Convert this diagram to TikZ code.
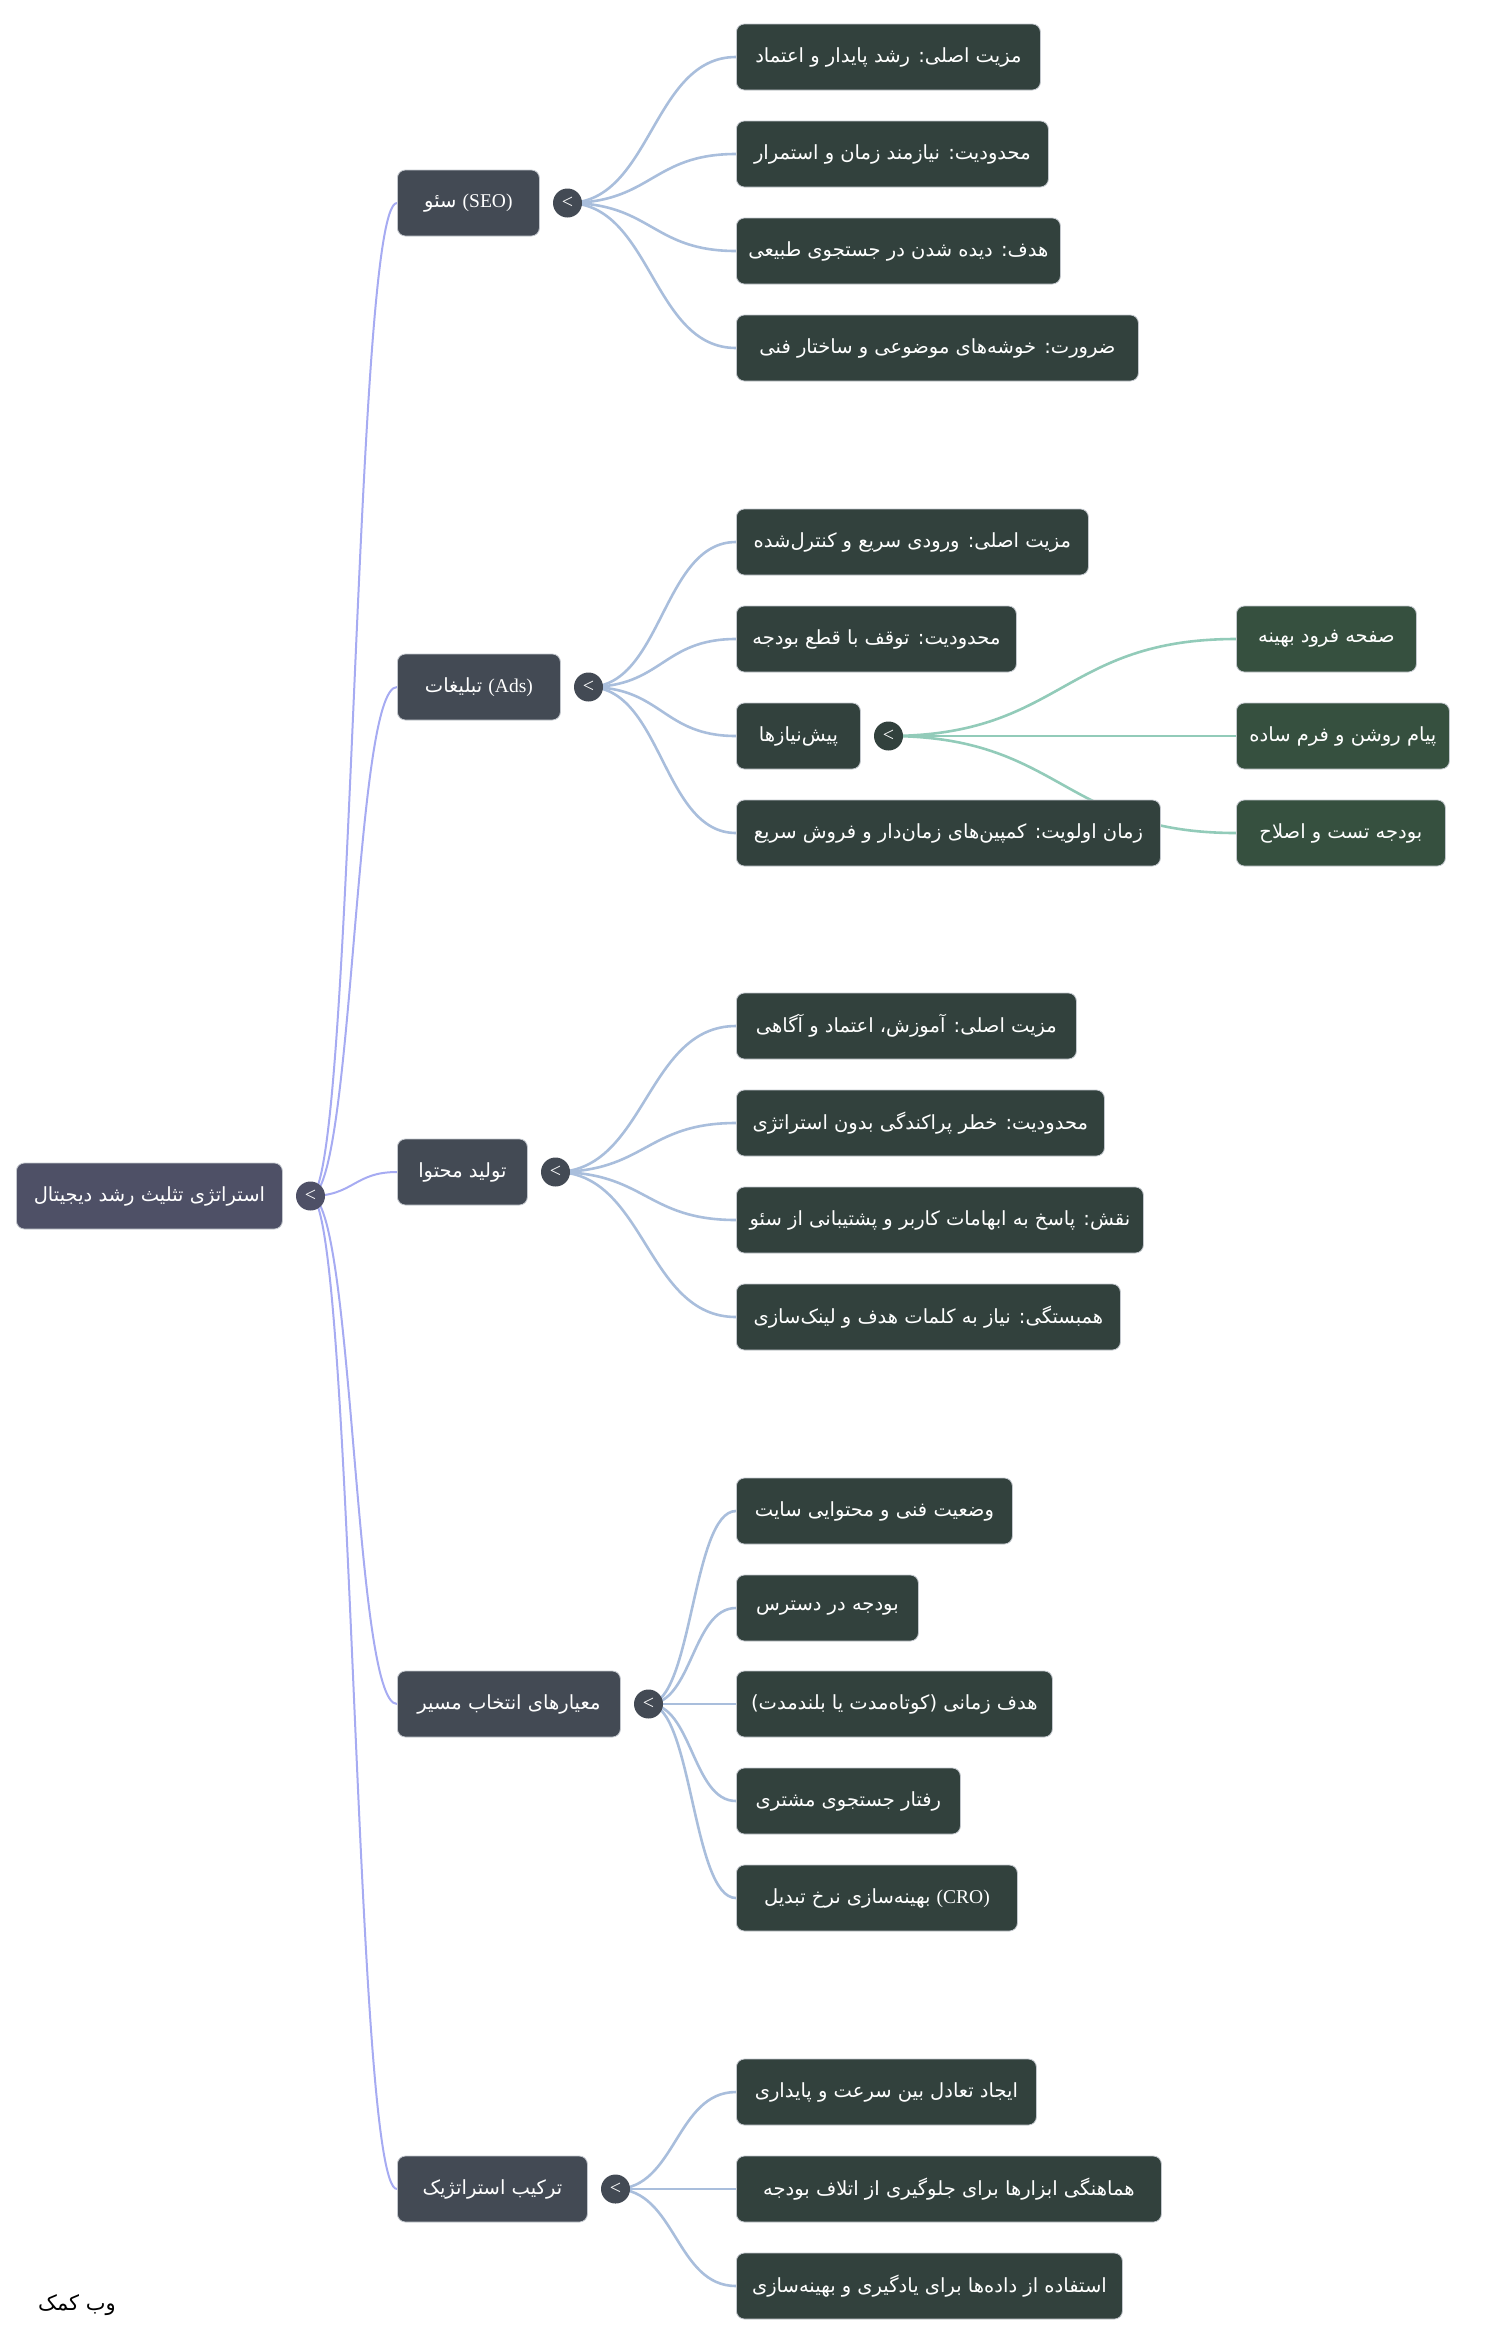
\documentclass[tikz,border=0pt]{standalone}
\usepackage{fontspec}
\setmainfont{Liberation Serif}
\newfontfamily\fafont[Script=Arabic]{DejaVu Sans}
\TeXXeTstate=1
\usetikzlibrary{
    calc,
    positioning,
    backgrounds
}
\definecolor{rootfill}{HTML}{4E5066}
\definecolor{topicfill}{HTML}{434A54}
\definecolor{leaffill}{HTML}{32413D}
\definecolor{subfill}{HTML}{36503F}
\definecolor{rootline}{HTML}{A6ABF2}
\definecolor{leafline}{HTML}{A9BEDC}
\definecolor{subline}{HTML}{92CBB9}
\definecolor{boxline}{HTML}{C4C8CE}
\newcommand{\fa}[1]{\beginR #1\endR}
\newcommand{\la}[1]{\beginL{\rmfamily #1}\endL}
\tikzset{
    box/.style={rectangle, rounded corners=8pt, draw=boxline, line width=0.8pt,
        text=white, minimum height=66pt, inner xsep=10pt, anchor=west,
        font=\fafont\fontsize{19.5}{23}\selectfont},
    rootbox/.style={box, fill=rootfill},
    topic/.style={box, fill=topicfill},
    leaf/.style={box, fill=leaffill},
    subleaf/.style={box, fill=subfill},
    knob/.style={circle, minimum size=29pt, inner sep=0pt, text=white,
        font=\rmfamily\fontsize{20}{20}\selectfont},
    branch/.style={rootline, line width=2pt},
    twig/.style={leafline, line width=2.6pt},
    subtwig/.style={subline, line width=2.6pt},
    curvy/.style={to path={let \p1=(\tikztostart), \p2=(\tikztotarget) in
        .. controls ({(\x1+\x2)/2},\y1) and ({(\x1+\x2)/2},\y2) .. (\tikztotarget)}}
}
\begin{document}
\begin{tikzpicture}[x=1pt, y=-1pt]
    \useasboundingbox (0,0) rectangle (1500,2343);
    % root
    \node[rootbox, minimum width=266pt] (root) at (16,1196) {\fa{استراتژی تثلیث رشد دیجیتال}};
    \node[knob, fill=rootfill, right=13pt of root] (rootk) {<};
    % topics
    \node[topic, minimum width=142pt] (seo) at (397,203) {\fa{\la{(SEO)} سئو}};
    \node[topic, minimum width=163pt] (ads) at (397,687) {\fa{\la{(Ads)} تبلیغات}};
    \node[topic, minimum width=130pt] (cont) at (397,1172) {\fa{تولید محتوا}};
    \node[topic, minimum width=223pt] (crit) at (397,1704) {\fa{معیارهای انتخاب مسیر}};
    \node[topic, minimum width=190pt] (mix) at (397,2189) {\fa{ترکیب استراتژیک}};
    \foreach \t in {seo, ads, cont, crit, mix}
        \node[knob, fill=topicfill, right=13pt of \t] (\t k) {<};
    % seo
    \node[leaf, minimum width=304pt] (seo1) at (736,57) {\fa{مزیت اصلی: رشد پایدار و اعتماد}};
    \node[leaf, minimum width=312pt] (seo2) at (736,154) {\fa{محدودیت: نیازمند زمان و استمرار}};
    \node[leaf, minimum width=324pt] (seo3) at (736,251) {\fa{هدف: دیده شدن در جستجوی طبیعی}};
    \node[leaf, minimum width=402pt] (seo4) at (736,348) {\fa{ضرورت: خوشه‌های موضوعی و ساختار فنی}};
    % ads
    \node[leaf, minimum width=352pt] (ads1) at (736,542) {\fa{مزیت اصلی: ورودی سریع و کنترل‌شده}};
    \node[leaf, minimum width=280pt] (ads2) at (736,639) {\fa{محدودیت: توقف با قطع بودجه}};
    \node[leaf, minimum width=124pt] (ads3) at (736,736) {\fa{پیش‌نیازها}};
    \node[leaf, minimum width=424pt] (ads4) at (736,833) {\fa{زمان اولویت: کمپین‌های زمان‌دار و فروش سریع}};
    \node[knob, fill=leaffill, right=13pt of ads3] (ads3k) {<};
    \node[subleaf, minimum width=180pt] (pre1) at (1236,639) {\fa{صفحه فرود بهینه}};
    \node[subleaf, minimum width=213pt] (pre2) at (1236,736) {\fa{پیام روشن و فرم ساده}};
    \node[subleaf, minimum width=209pt] (pre3) at (1236,833) {\fa{بودجه تست و اصلاح}};
    % content
    \node[leaf, minimum width=340pt] (cont1) at (736,1026) {\fa{مزیت اصلی: آموزش، اعتماد و آگاهی}};
    \node[leaf, minimum width=368pt] (cont2) at (736,1123) {\fa{محدودیت: خطر پراکندگی بدون استراتژی}};
    \node[leaf, minimum width=407pt] (cont3) at (736,1220) {\fa{نقش: پاسخ به ابهامات کاربر و پشتیبانی از سئو}};
    \node[leaf, minimum width=384pt] (cont4) at (736,1317) {\fa{همبستگی: نیاز به کلمات هدف و لینک‌سازی}};
    % criteria
    \node[leaf, minimum width=276pt] (crit1) at (736,1511) {\fa{وضعیت فنی و محتوایی سایت}};
    \node[leaf, minimum width=182pt] (crit2) at (736,1608) {\fa{بودجه در دسترس}};
    \node[leaf, minimum width=316pt] (crit3) at (736,1704) {\fa{هدف زمانی (کوتاه‌مدت یا بلندمدت)}};
    \node[leaf, minimum width=224pt] (crit4) at (736,1801) {\fa{رفتار جستجوی مشتری}};
    \node[leaf, minimum width=281pt] (crit5) at (736,1898) {\fa{\la{(CRO)} بهینه‌سازی نرخ تبدیل}};
    % mix
    \node[leaf, minimum width=300pt] (mix1) at (736,2092) {\fa{ایجاد تعادل بین سرعت و پایداری}};
    \node[leaf, minimum width=425pt] (mix2) at (736,2189) {\fa{هماهنگی ابزارها برای جلوگیری از اتلاف بودجه}};
    \node[leaf, minimum width=386pt] (mix3) at (736,2286) {\fa{استفاده از داده‌ها برای یادگیری و بهینه‌سازی}};
    % footer
    \node[font=\fafont\fontsize{21}{25}\selectfont] (foot) at (77,2305) {\fa{وب کمک}};
    % links
    \begin{scope}[on background layer]
        \foreach \t in {seo, ads, cont, crit, mix}
            \draw[branch] (rootk.center) to[curvy] (\t.west);
        \foreach \t in {seo1, seo2, seo3, seo4}
            \draw[twig] (seok.center) to[curvy] (\t.west);
        \foreach \t in {ads1, ads2, ads3, ads4}
            \draw[twig] (adsk.center) to[curvy] (\t.west);
        \foreach \t in {pre1, pre2, pre3}
            \draw[subtwig] (ads3k.center) to[curvy] (\t.west);
        \foreach \t in {cont1, cont2, cont3, cont4}
            \draw[twig] (contk.center) to[curvy] (\t.west);
        \foreach \t in {crit1, crit2, crit3, crit4, crit5}
            \draw[twig] (critk.center) to[curvy] (\t.west);
        \foreach \t in {mix1, mix2, mix3}
            \draw[twig] (mixk.center) to[curvy] (\t.west);
    \end{scope}
\end{tikzpicture}
\end{document}
